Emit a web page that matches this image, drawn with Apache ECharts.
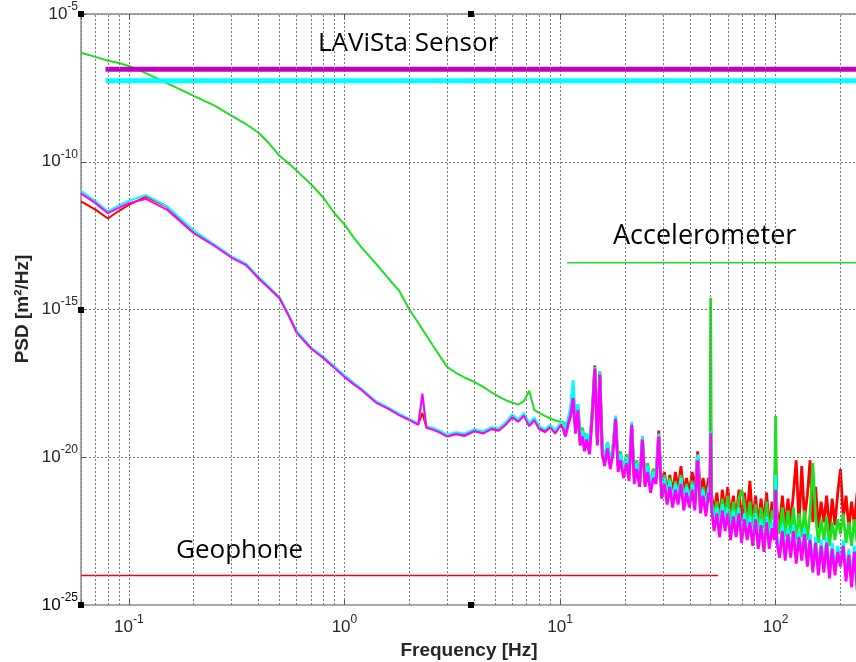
<!DOCTYPE html>
<html><head><meta charset="utf-8">
<script src="https://cdn.jsdelivr.net/npm/echarts@6/dist/echarts.min.js"></script>
<style>html,body{margin:0;padding:0;background:#fff}#chart{width:856px;height:662px}</style>
</head><body><div id="chart"></div>
<script>
// ---------- data (PSD values given as log10 of m^2/Hz) ----------
const freqLow = [0.06,0.07,0.08,0.09,0.1,0.12,0.15,0.2,0.25,0.3,
  0.35,0.4,0.45,0.5,0.55,0.6,0.7,0.8,0.9,1.0,
  1.1,1.2,1.4,1.6,1.8,2.0,2.2,2.3,2.4,2.6,
  2.8,3.0,3.3,3.6,4.0,4.4,4.8,5.2,5.6,6.0,
  6.4,6.8,7.2,7.6,8.0,8.5,9.0,9.5,10];
const freqHigh = [10.3,10.6,10.9,11.2,11.5,11.8,12.1,12.4,12.7,13.0,
  13.3,13.7,14.1,14.5,14.9,15.3,15.7,16.1,16.6,17.1,
  17.6,18.1,18.6,19.1,19.7,20.3,20.9,21.5,22.1,22.7,
  23.4,24.1,24.8,25.5,26.3,27.1,27.9,28.7,29.6,30.5,
  31.4,32.3,33.3,34.3,35.3,36.4,37.5,38.6,39.8,41.0,
  42.2,43.5,44.8,46.1,47.5,48.9,49.6,50.0,50.4,51.8,
  53.4,55.0,56.6,58.3,60.0,61.8,63.7,65.6,67.6,69.6,
  71.7,73.8,76.0,78.3,80.7,83.1,85.6,88.2,90.8,93.5,
  96.3,98.6,100.0,101.4,104.4,107.5,110.8,114.1,117.5,121.0,
  124.6,128.4,132.2,136.2,140.3,144.5,148.8,153.3,157.9,162.6,
  167.5,172.5,177.7,183.0,188.5,194.2,200.0,206.0,212.2,218.6,
  225.1,231.9,238.8,246.0,250.0];

const greenLow = [-6.31,-6.45,-6.58,-6.66,-6.76,-7.0,-7.34,-7.77,-8.1,-8.45,
  -8.73,-9.02,-9.4,-9.8,-10.05,-10.3,-10.76,-11.22,-11.75,-12.12,
  -12.55,-12.9,-13.45,-13.95,-14.38,-15.0,-15.45,-15.67,-15.88,-16.27,
  -16.63,-16.95,-17.15,-17.3,-17.45,-17.62,-17.8,-17.95,-18.07,-18.15,
  -18.22,-18.1,-17.75,-18.4,-18.5,-18.6,-18.68,-18.75,-18.8];
const redLow = [-11.34,-11.62,-11.92,-11.66,-11.46,-11.18,-11.52,-12.36,-12.82,-13.22,
  -13.47,-13.92,-14.27,-14.6,-15.17,-15.75,-16.3,-16.63,-16.96,-17.25,
  -17.5,-17.7,-18.12,-18.34,-18.56,-18.72,-18.88,-18.5,-18.98,-19.05,
  -19.15,-19.27,-19.2,-19.25,-19.1,-19.17,-19.02,-19.07,-18.87,-18.62,
  -18.77,-18.57,-18.92,-18.72,-19.02,-19.1,-18.95,-19.15,-18.9];
const cyanLow = [-10.98,-11.33,-11.68,-11.48,-11.32,-11.13,-11.5,-12.33,-12.8,-13.2,
  -13.45,-13.9,-14.25,-14.58,-15.15,-15.72,-16.28,-16.6,-16.93,-17.22,
  -17.47,-17.68,-18.1,-18.32,-18.53,-18.7,-18.85,-17.95,-18.95,-19.02,
  -19.12,-19.24,-19.15,-19.2,-19.05,-19.12,-18.98,-19.02,-18.82,-18.55,
  -18.72,-18.5,-18.85,-18.65,-18.95,-19.05,-18.9,-19.1,-18.85];
const magentaLow = [-11.07,-11.40,-11.74,-11.55,-11.40,-11.26,-11.62,-12.42,-12.85,-13.25,
  -13.5,-13.95,-14.3,-14.62,-15.2,-15.78,-16.32,-16.65,-16.98,-17.28,
  -17.52,-17.72,-18.15,-18.36,-18.58,-18.74,-18.9,-17.85,-19.0,-19.08,
  -19.18,-19.3,-19.22,-19.28,-19.12,-19.2,-19.05,-19.1,-18.9,-18.65,
  -18.8,-18.6,-18.95,-18.75,-19.05,-19.15,-19.0,-19.2,-18.95];

const greenHigh = [-18.8,-18.9,-18.8,-18.5,-18.3,-18.9,-18.2,-19.2,-19.0,-19.4,
  -19.2,-19.6,-18.4,-17.0,-19.4,-17.3,-19.7,-20.0,-19.5,-20.1,
  -19.7,-18.6,-20.3,-19.8,-20.5,-19.9,-20.6,-19.0,-20.7,-20.1,
  -20.8,-19.5,-20.8,-20.2,-21.0,-20.4,-20.7,-19.4,-21.2,-20.6,
  -21.4,-20.7,-21.5,-20.8,-21.4,-20.6,-21.6,-20.9,-21.5,-20.8,
  -21.6,-20.0,-21.7,-21.0,-21.8,-21.0,-20.9,-14.6,-21.5,-22.0,
  -21.5,-22.2,-21.4,-22.1,-21.3,-22.3,-21.5,-22.2,-21.4,-21.1,
  -21.6,-22.3,-21.5,-22.4,-21.6,-22.5,-21.7,-22.4,-21.5,-22.6,
  -21.8,-22.1,-18.6,-22.0,-22.6,-21.7,-22.7,-21.8,-22.6,-21.7,
  -22.8,-21.9,-22.7,-21.8,-22.8,-21.9,-20.2,-22.0,-22.9,-22.1,
  -22.8,-22.0,-23.0,-22.2,-22.8,-22.1,-22.6,-21.9,-22.9,-22.2,
  -23.0,-22.1,-22.9,-21.8,-22.5];
const redHigh = [-18.9,-19.2,-18.8,-18.4,-17.6,-19.1,-18.3,-19.5,-19.2,-19.7,
  -19.3,-19.8,-18.6,-16.9,-19.5,-17.1,-19.8,-20.1,-19.5,-20.2,
  -19.7,-18.7,-20.3,-19.9,-20.5,-20.0,-20.6,-18.9,-20.7,-20.2,
  -20.9,-19.3,-20.9,-20.3,-21.0,-20.4,-20.6,-19.1,-21.1,-20.5,
  -21.2,-20.6,-21.2,-20.5,-21.1,-20.3,-21.2,-20.7,-21.2,-20.5,
  -21.1,-19.8,-21.2,-20.7,-21.3,-20.7,-21.0,-19.0,-21.2,-21.9,
  -21.2,-22.1,-21.1,-21.8,-21.0,-22.0,-21.3,-22.1,-21.1,-22.2,
  -21.2,-22.0,-20.8,-22.2,-21.3,-22.3,-21.4,-22.2,-21.2,-22.4,
  -21.5,-21.9,-20.0,-21.8,-22.3,-21.3,-22.4,-21.4,-22.2,-21.2,
  -20.1,-22.3,-20.3,-22.1,-21.3,-20.1,-22.2,-21.0,-22.4,-21.5,
  -22.2,-21.3,-22.5,-21.4,-22.3,-21.2,-20.4,-22.1,-21.3,-22.4,
  -21.5,-22.3,-21.2,-22.2,-20.8];
const cyanHigh = [-18.8,-19.1,-18.7,-18.3,-17.4,-19.0,-18.2,-19.4,-19.1,-19.6,
  -19.2,-19.7,-18.5,-16.95,-19.4,-17.1,-19.7,-20.1,-19.5,-20.2,
  -19.7,-18.6,-20.3,-19.9,-20.5,-20.0,-20.6,-18.8,-20.7,-20.2,
  -20.8,-19.3,-20.8,-20.3,-21.0,-20.5,-20.7,-19.2,-21.2,-20.7,
  -21.4,-20.8,-21.5,-20.9,-21.4,-20.7,-21.6,-21.0,-21.5,-20.9,
  -21.6,-19.9,-21.7,-21.1,-21.8,-21.0,-21.3,-19.1,-21.5,-22.3,
  -21.7,-22.5,-21.6,-22.3,-21.7,-22.6,-21.8,-22.5,-21.7,-22.7,
  -21.9,-22.6,-22.0,-22.8,-21.9,-22.9,-22.1,-23.0,-22.0,-22.9,
  -22.2,-22.6,-20.6,-22.7,-23.2,-22.3,-23.3,-22.4,-23.2,-22.3,
  -23.4,-22.5,-23.3,-22.4,-23.5,-22.6,-23.7,-22.7,-23.8,-22.8,
  -23.6,-22.7,-23.9,-22.9,-23.8,-23.0,-23.5,-22.8,-24.0,-23.1,
  -24.1,-23.0,-24.2,-23.2,-24.0];
const magentaHigh = [-19.0,-19.3,-18.9,-18.6,-18.0,-19.2,-18.4,-19.6,-19.3,-19.8,
  -19.4,-19.9,-18.6,-17.0,-19.6,-17.2,-19.9,-20.3,-19.7,-20.4,
  -19.9,-18.7,-20.5,-20.1,-20.7,-20.2,-20.8,-18.9,-20.9,-20.4,
  -21.0,-19.4,-21.0,-20.5,-21.2,-20.7,-20.9,-19.3,-21.4,-20.9,
  -21.6,-21.0,-21.7,-21.1,-21.6,-20.9,-21.8,-21.2,-21.7,-21.1,
  -21.8,-20.1,-21.9,-21.3,-22.0,-21.2,-21.5,-19.2,-21.7,-22.5,
  -21.9,-22.7,-21.8,-22.5,-21.9,-22.8,-22.0,-22.7,-21.9,-22.9,
  -22.1,-22.8,-22.2,-23.0,-22.1,-23.1,-22.3,-23.2,-22.2,-23.1,
  -22.4,-22.8,-21.1,-22.9,-23.4,-22.5,-23.5,-22.6,-23.4,-22.5,
  -23.6,-22.7,-23.5,-22.6,-23.7,-22.8,-23.9,-22.9,-24.0,-23.0,
  -23.9,-22.9,-24.1,-23.1,-24.0,-23.2,-23.7,-23.0,-24.2,-23.3,
  -24.4,-23.2,-24.5,-23.4,-24.3];

// sensor noise-floor reference lines
const lavistaFreqRange = [0.078, 250];
const lavistaPsdA = 1.35e-7;   // magenta
const lavistaPsdB = 5.5e-8;    // cyan
const accelFreqRange = [10.8, 250];
const accelPsd = 3.8e-14;
const geoFreqRange = [0.06, 54];
const geoPsd = 1e-24;

// axes
const xRange = [0.06, 236];
const yRange = [1e-25, 1e-5];
const xMinorGrid = [0.07,0.08,0.09,0.2,0.3,0.4,0.5,0.6,0.7,0.8,0.9,
  2,3,4,5,6,7,8,9,20,30,40,50,60,70,80,90,200];
const labels = {x: 'Frequency [Hz]', y: 'PSD [m\u00b2/Hz]',
  lavista: 'LAViSta Sensor', accel: 'Accelerometer', geo: 'Geophone'};

// ---------- build ----------
function pts(f, lg) { return f.map((v, i) => [v, Math.pow(10, lg[i])]); }
function spectrum(name, color, low, high) {
  const lowPts = pts(freqLow, low), highPts = pts(freqHigh, high);
  return [
    {name, type: 'line', showSymbol: false, symbol: 'none', clip: true,
      lineStyle: {color, width: 2}, itemStyle: {color}, data: lowPts.concat([highPts[0]]), z: 3},
    {name, type: 'line', showSymbol: false, symbol: 'none', clip: true,
      lineStyle: {color, width: 2.8}, itemStyle: {color}, data: highPts, z: 3}
  ];
}
function hline(name, color, range, val, width, z) {
  return {name, type: 'line', showSymbol: false, symbol: 'none', clip: true,
    lineStyle: {color, width}, itemStyle: {color},
    data: [[range[0], val], [range[1], val]], z};
}
function expOf(v, minVal) {
  const l = v > 0 ? Math.log10(v) : Math.log10(minVal), e = Math.round(l);
  return (!isFinite(l) || Math.abs(l - e) > 1e-6) ? null : e;
}
function powText(e) { return '{b|10}{s|' + e + '}'; }
function powLabelFor(minVal) {
  return function (v) { const e = expOf(v, minVal); return e === null ? '' : powText(e); };
}
const FONT = '"Liberation Sans", Arial, sans-serif';
const rich = {
  b: {fontSize: 17, height: 17, lineHeight: 17, verticalAlign: 'bottom', fontFamily: FONT, color: '#262626'},
  s: {fontSize: 12, height: 12, lineHeight: 22, verticalAlign: 'top', fontFamily: FONT, color: '#262626'}
};
const gridDot = {type: [2, 2], color: '#7a7a7a', width: 1};
const axisLineStyle = {color: '#8c8c8c', width: 1.5};

const series = [
  {type: 'line', data: [[1, 1e-20]], silent: true, z: 1, showSymbol: false, lineStyle: {opacity: 0},
    markLine: {silent: true, symbol: ['none', 'none'], label: {show: false}, animation: false,
      lineStyle: gridDot, emphasis: {disabled: true},
      data: xMinorGrid.map(v => ({xAxis: v}))}}
].concat(
  spectrum('red', '#ff0000', redLow, redHigh),
  spectrum('green', '#1ee01e', greenLow, greenHigh),
  spectrum('cyan', '#00ffff', cyanLow, cyanHigh),
  spectrum('magenta', '#ff00ff', magentaLow, magentaHigh),
  [hline('LAViSta A', '#c000c0', lavistaFreqRange, lavistaPsdA, 5, 4),
   hline('LAViSta B', '#00ffff', lavistaFreqRange, lavistaPsdB, 5, 4),
   hline('Accelerometer', '#1ee01e', accelFreqRange, accelPsd, 1.5, 4),
   hline('Geophone', '#ff0000', geoFreqRange, geoPsd, 1.5, 4)]
);

const chart = echarts.init(document.getElementById('chart'), null, {renderer: 'canvas'});
chart.setOption({
  animation: false,
  backgroundColor: '#ffffff',
  grid: {left: 81, right: 0, top: 14, bottom: 57, show: false, outerBoundsMode: 'none'},
  xAxis: [{type: 'log', logBase: 10, min: xRange[0], max: xRange[1],
    axisLine: {show: true, onZero: false, lineStyle: axisLineStyle},
    axisTick: {show: true, inside: true, length: 5, lineStyle: {color: '#555'}},
    splitLine: {show: true, lineStyle: gridDot},
    axisLabel: {formatter: powLabelFor(xRange[0]), rich, margin: 9}},
    {type: 'log', logBase: 10, min: xRange[0], max: xRange[1], position: 'top',
    axisLine: {show: true, onZero: false, lineStyle: axisLineStyle},
    axisTick: {show: true, inside: true, length: 5, lineStyle: {color: '#555'}},
    splitLine: {show: false}, axisLabel: {show: false}}],
  yAxis: {type: 'log', logBase: 10, min: yRange[0], max: yRange[1], interval: 5,
    axisLine: {show: true, onZero: false, lineStyle: axisLineStyle},
    axisTick: {show: true, inside: true, length: 5, lineStyle: {color: '#555'}},
    splitLine: {show: true, lineStyle: gridDot},
    axisLabel: {formatter: powLabelFor(yRange[0]), rich, margin: 3, padding: [0, 0, 5, 0], showMinLabel: true}},
  series,
  graphic: [
    // bottom y tick label (the log scale rounds its 1e-25 tick to zero, so it is placed here)
    {type: 'text', x: 78, y: 605, style: {text: powText(expOf(yRange[0], yRange[0])), rich, padding: [0, 0, 5, 0],
      align: 'right', verticalAlign: 'middle', textAlign: 'right', textVerticalAlign: 'middle'}},
    {type: 'text', x: 318, y: 44, style: {text: labels.lavista, fontFamily: '"Open Sans"', fontSize: 26, fill: '#000', textAlign: 'left', textVerticalAlign: 'middle', align: 'left', verticalAlign: 'middle'}},
    {type: 'text', x: 613, y: 236, style: {text: labels.accel, fontFamily: '"Open Sans"', fontSize: 27, fill: '#000', textAlign: 'left', textVerticalAlign: 'middle', align: 'left', verticalAlign: 'middle'}},
    {type: 'text', x: 176, y: 551, style: {text: labels.geo, fontFamily: '"Open Sans"', fontSize: 26, fill: '#000', textAlign: 'left', textVerticalAlign: 'middle', align: 'left', verticalAlign: 'middle'}},
    {type: 'text', x: 469, y: 651, style: {text: labels.x, fontFamily: FONT, fontWeight: 'bold', fontSize: 19, fill: '#262626', textAlign: 'center', textVerticalAlign: 'middle', align: 'center', verticalAlign: 'middle'}},
    {type: 'text', x: 23, y: 309, rotation: Math.PI / 2, style: {text: labels.y, fontFamily: FONT, fontWeight: 'bold', fontSize: 19, fill: '#262626', textAlign: 'center', textVerticalAlign: 'middle', align: 'center', verticalAlign: 'middle'}},
    {type: 'rect', x: 78, y: 11, shape: {width: 6, height: 6}, style: {fill: '#000'}, z: 100},
    {type: 'rect', x: 78, y: 307, shape: {width: 6, height: 6}, style: {fill: '#000'}, z: 100},
    {type: 'rect', x: 78, y: 602, shape: {width: 6, height: 6}, style: {fill: '#000'}, z: 100},
    {type: 'rect', x: 468, y: 602, shape: {width: 6, height: 6}, style: {fill: '#000'}, z: 100},
    {type: 'rect', x: 468, y: 11, shape: {width: 6, height: 6}, style: {fill: '#000'}, z: 100}
  ]
});
</script></body></html>
